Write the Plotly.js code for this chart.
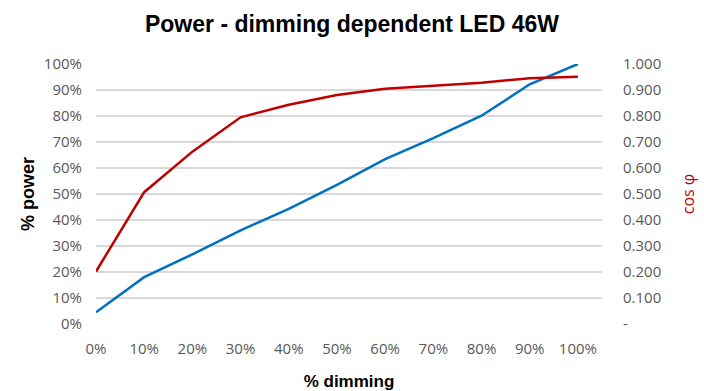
<!DOCTYPE html>
<html>
<head>
<meta charset="utf-8">
<script src="https://cdn.plot.ly/plotly-3.0.1.min.js"></script>
<style>html,body{margin:0;padding:0;background:#fff;}#chart{width:704px;height:391px;}</style>
</head>
<body>
<div id="chart"></div>
<script>
var dimming = [0, 10, 20, 30, 40, 50, 60, 70, 80, 90, 100];
var powerPct = [0.045, 0.18, 0.268, 0.36, 0.443, 0.535, 0.634, 0.715, 0.801, 0.922, 1.0];
var cosPhi = [0.202, 0.507, 0.663, 0.795, 0.843, 0.881, 0.905, 0.917, 0.928, 0.945, 0.951];
var xTickVals = [0, 10, 20, 30, 40, 50, 60, 70, 80, 90, 100];
var xTickText = ['0%', '10%', '20%', '30%', '40%', '50%', '60%', '70%', '80%', '90%', '100%'];
var y2TickVals = [0, 0.1, 0.2, 0.3, 0.4, 0.5, 0.6, 0.7, 0.8, 0.9, 1.0];
var y2TickText = ['-', '0.100', '0.200', '0.300', '0.400', '0.500', '0.600', '0.700', '0.800', '0.900', '1.000'];

var tickFont = {family: 'Open Sans, sans-serif', size: 15, color: '#595959'};
var traces = [
  {x: dimming, y: powerPct, type: 'scatter', mode: 'lines', name: '% power',
   line: {color: '#0070c0', width: 2.5}, yaxis: 'y'},
  {x: dimming, y: cosPhi, type: 'scatter', mode: 'lines', name: 'cos φ',
   line: {color: '#c00000', width: 2.5}, yaxis: 'y2'}
];
var layout = {
  width: 704, height: 391,
  margin: {l: 96, r: 102, t: 64, b: 67},
  paper_bgcolor: '#fff', plot_bgcolor: '#fff',
  showlegend: false,
  title: {text: 'Power - dimming dependent LED 46W', font: {family: 'Liberation Sans, Arial, sans-serif', size: 23, color: '#000', weight: 'bold'}, x: 0.5, xanchor: 'center', y: 0.938, yanchor: 'middle'},
  xaxis: {range: [0, 105], tickvals: xTickVals, ticktext: xTickText, showgrid: false, zeroline: false,
          showline: false, ticks: '', tickfont: tickFont, ticklabelstandoff: 14,
          title: {text: '% dimming', font: {family: 'Liberation Sans, Arial, sans-serif', size: 17, color: '#000', weight: 'bold'}, standoff: 19}},
  yaxis: {range: [0, 1], dtick: 0.1, tickformat: '.0%', showgrid: true, gridcolor: '#d9d9d9', gridwidth: 1.3,
          zeroline: false, showline: false, ticks: '', tickfont: tickFont, ticklabelstandoff: 13,
          title: {text: '% power', font: {family: 'Liberation Sans, Arial, sans-serif', size: 18, color: '#000', weight: 'bold'}, standoff: 4}},
  yaxis2: {range: [0, 1], overlaying: 'y', side: 'right', tickvals: y2TickVals, ticktext: y2TickText,
           showgrid: false, zeroline: false, showline: false, ticks: '', tickfont: tickFont, ticklabelstandoff: 20,
           title: {text: 'cos φ', font: {family: 'Open Sans, sans-serif', size: 16, color: '#c00000'}, standoff: 22}}
};
Plotly.newPlot('chart', traces, layout, {displayModeBar: false, staticPlot: true});
</script>
</body>
</html>
